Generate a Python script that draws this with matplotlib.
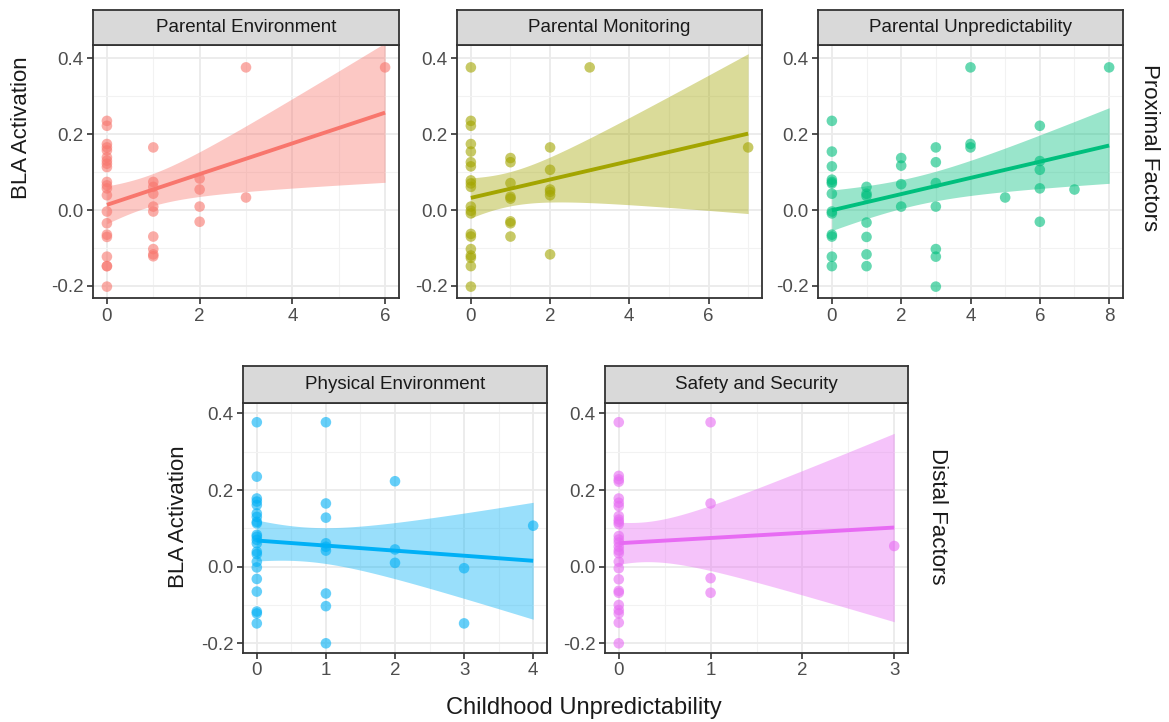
import numpy as np
import matplotlib
matplotlib.use("Agg")
import matplotlib.pyplot as plt
from matplotlib.ticker import FixedLocator

# ---------------- data ----------------
panel_names = ["Parental Environment", "Parental Monitoring", "Parental Unpredictability",
               "Physical Environment", "Safety and Security"]
panel_colors = ["#F8766D", "#A3A500", "#00BF7D", "#00B0F6", "#E76BF3"]

pe_x = [0]*21 + [1]*10 + [2]*4 + [3]*2 + [6]
pe_y = [0.235, 0.222, 0.174, 0.165, 0.157, 0.139, 0.130, 0.122, 0.113, 0.074, 0.065, 0.057,
        0.039, -0.004, -0.035, -0.065, -0.071, -0.123, -0.148, -0.148, -0.202,
        0.165, 0.074, 0.061, 0.043, 0.009, -0.004, -0.070, -0.103, -0.117, -0.122,
        0.083, 0.054, 0.009, -0.031,
        0.376, 0.033,
        0.376]

pm_x = [0]*20 + [1]*8 + [2]*6 + [3] + [7]
pm_y = [0.376, 0.235, 0.222, 0.174, 0.154, 0.126, 0.115, 0.078, 0.070, 0.061, 0.009, -0.002,
        -0.009, -0.063, -0.070, -0.103, -0.120, -0.126, -0.148, -0.202,
        0.137, 0.126, 0.071, 0.035, 0.030, -0.030, -0.035, -0.070,
        0.165, 0.106, 0.054, 0.048, 0.039, -0.117,
        0.376,
        0.165]

pu_x = [0]*13 + [1]*7 + [2]*4 + [3]*7 + [4]*3 + [5] + [6]*5 + [7] + [8]
pu_y = [0.235, 0.154, 0.115, 0.080, 0.074, 0.070, 0.043, -0.004, -0.009, -0.065, -0.070, -0.123, -0.148,
        0.061, 0.043, 0.037, -0.033, -0.071, -0.117, -0.148,
        0.137, 0.117, 0.068, 0.009,
        0.165, 0.126, 0.071, 0.009, -0.103, -0.123, -0.202,
        0.376, 0.174, 0.165,
        0.033,
        0.222, 0.129, 0.106, 0.057, -0.031,
        0.054,
        0.376]

ph_x = [0]*22 + [1]*9 + [2]*3 + [3]*2 + [4]
ph_y = [0.377, 0.235, 0.178, 0.170, 0.161, 0.139, 0.130, 0.117, 0.113, 0.083, 0.078, 0.070, 0.061,
        0.039, 0.033, 0.013, -0.002, -0.032, -0.065, -0.117, -0.122, -0.148,
        0.377, 0.165, 0.128, 0.061, 0.052, 0.042, -0.070, -0.103, -0.200,
        0.223, 0.045, 0.010,
        -0.004, -0.148,
        0.107]

ss_x = [0]*27 + [1]*4 + [3]
ss_y = [0.377, 0.237, 0.228, 0.222, 0.178, 0.167, 0.158, 0.132, 0.123, 0.117, 0.111, 0.080, 0.071,
        0.063, 0.052, 0.042, 0.035, 0.013, -0.004, -0.033, -0.063, -0.068, -0.100, -0.113, -0.122,
        -0.146, -0.200,
        0.377, 0.165, -0.030, -0.068,
        0.054]

x_major = [[0, 2, 4, 6], [0, 2, 4, 6], [0, 2, 4, 6, 8], [0, 1, 2, 3, 4], [0, 1, 2, 3]]
x_minor = [[1, 3, 5], [1, 3, 5, 7], [1, 3, 5, 7], [0.5, 1.5, 2.5, 3.5], [0.5, 1.5, 2.5]]
y_major = [-0.2, 0.0, 0.2, 0.4]
y_minor = [-0.1, 0.1, 0.3]
y_labels = ["-0.2", "0.0", "0.2", "0.4"]

data = [(pe_x, pe_y), (pm_x, pm_y), (pu_x, pu_y), (ph_x, ph_y), (ss_x, ss_y)]

# ---------------- layout (pixels) ----------------
W, H = 1169, 722
boxes = [(93, 45, 399, 298), (457, 45, 762, 298), (818, 45, 1123, 298),
         (243, 402.7, 547, 652.7), (605, 402.7, 908, 652.7)]
strip_tops = [10, 10, 10, 366, 366]
ylims = [(-0.232, 0.435)] * 3 + [(-0.2245, 0.428)] * 2

plt.rcParams['font.family'] = ['Liberation Sans', 'DejaVu Sans']
fig = plt.figure(figsize=(W / 100, H / 100), dpi=100)
fig.patch.set_facecolor("white")


def px_axes(x0, y0, x1, y1):
    return fig.add_axes([x0 / W, 1 - y1 / H, (x1 - x0) / W, (y1 - y0) / H])


def t975(df):
    z = 1.959964
    return z + (z**3 + z) / (4 * df) + (5 * z**5 + 16 * z**3 + 3 * z) / (96 * df**2)


for i in range(5):
    xs = np.asarray(data[i][0], float)
    ys = np.asarray(data[i][1], float)
    col = panel_colors[i]
    x0, y0, x1, y1 = boxes[i]
    ax = px_axes(x0, y0, x1, y1)
    xlo, xhi = xs.min(), xs.max()
    pad = 0.05 * (xhi - xlo)
    ax.set_xlim(xlo - pad, xhi + pad)
    ax.set_ylim(*ylims[i])
    ax.set_facecolor("white")

    ax.xaxis.set_major_locator(FixedLocator(x_major[i]))
    ax.xaxis.set_minor_locator(FixedLocator(x_minor[i]))
    ax.yaxis.set_major_locator(FixedLocator(y_major))
    ax.yaxis.set_minor_locator(FixedLocator(y_minor))
    ax.set_xticklabels([str(v) for v in x_major[i]])
    ax.set_yticklabels(y_labels)
    ax.grid(which="major", color="#EBEBEB", lw=1.3, zorder=0)
    ax.grid(which="minor", color="#F2F2F2", lw=0.8, zorder=0)
    ax.set_axisbelow(True)
    ax.tick_params(which="major", length=4, width=1.2, color="#333333",
                   labelsize=13.5, labelcolor="#4D4D4D", pad=3)
    ax.tick_params(which="minor", length=0)
    for s in ax.spines.values():
        s.set_color("#333333")
        s.set_linewidth(1.3)

    # points
    ax.scatter(xs, ys, s=58, color=col, alpha=0.6, edgecolors="none", zorder=3)

    # linear fit with 95% CI
    n = len(xs)
    xbar = xs.mean()
    sxx = np.sum((xs - xbar) ** 2)
    slope = np.sum((xs - xbar) * (ys - ys.mean())) / sxx
    icpt = ys.mean() - slope * xbar
    resid = ys - (icpt + slope * xs)
    sigma = np.sqrt(np.sum(resid ** 2) / (n - 2))
    gx = np.linspace(xlo, xhi, 200)
    gy = icpt + slope * gx
    se = sigma * np.sqrt(1 / n + (gx - xbar) ** 2 / sxx)
    tq = t975(n - 2)
    ax.fill_between(gx, gy - tq * se, gy + tq * se, color=col, alpha=0.4, lw=0, zorder=4)
    ax.plot(gx, gy, color=col, lw=2.8, zorder=5, solid_capstyle="butt")

    # strip
    st = strip_tops[i]
    sax = px_axes(x0, st, x1, y0)
    sax.set_facecolor("#D9D9D9")
    sax.set_xticks([])
    sax.set_yticks([])
    for s in sax.spines.values():
        s.set_color("#333333")
        s.set_linewidth(1.3)
    sax.text(0.5, 0.5, panel_names[i], ha="center", va="center", fontsize=13.5,
             color="#1A1A1A", transform=sax.transAxes)

# axis titles and row labels
fig.text(22 / W, 1 - 128 / H, "BLA Activation", rotation=90, ha="center", va="center",
         fontsize=16, color="#1A1A1A")
fig.text(179 / W, 1 - 517 / H, "BLA Activation", rotation=90, ha="center", va="center",
         fontsize=16, color="#1A1A1A")
fig.text(584 / W, 1 - 708 / H, "Childhood Unpredictability", ha="center", va="center",
         fontsize=17, color="#1A1A1A")
fig.text(1150 / W, 1 - 148 / H, "Proximal Factors", rotation=270, ha="center", va="center",
         fontsize=16, color="#1A1A1A")
fig.text(938 / W, 1 - 516 / H, "Distal Factors", rotation=270, ha="center", va="center",
         fontsize=16, color="#1A1A1A")

fig.savefig("out.png", dpi=100, facecolor="white")
